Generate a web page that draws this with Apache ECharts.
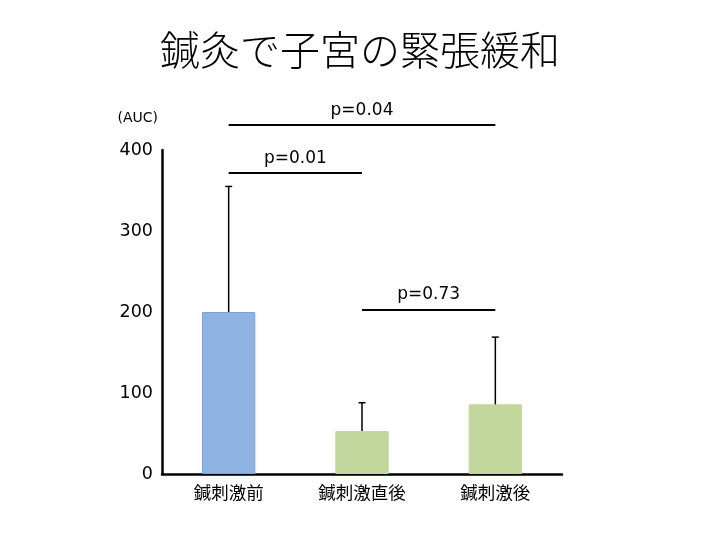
<!DOCTYPE html>
<html>
<head>
<meta charset="utf-8">
<script src="https://cdn.jsdelivr.net/npm/echarts@6/dist/echarts.min.js"></script>
<style>
html,body{margin:0;padding:0;background:#fff;}
#chart{width:720px;height:540px;}
</style>
</head>
<body>
<div id="chart"></div>
<script>
var titleText = '鍼灸で子宮の緊張緩和';
var categories = ['鍼刺激前', '鍼刺激直後', '鍼刺激後'];
var means = [200, 53, 86];
var upperErr = [355, 88, 169];
var barColors = ['#8EB4E3', '#C3D69B', '#C3D69B'];
var barBorders = ['#7CA3D4', '#C3D69B', '#C3D69B'];
var yTicks = [0, 100, 200, 300, 400];
var sigLabels = ['p=0.04', 'p=0.01', 'p=0.73'];
var sigFrom = [0, 0, 1];
var sigTo = [2, 1, 2];
var sigLevel = [431, 372, 203];

var chart = echarts.init(document.getElementById('chart'));

var barData = means.map(function (v, i) {
  return { value: v, itemStyle: { color: barColors[i], borderColor: barBorders[i], borderWidth: 1 } };
});
var errData = means.map(function (v, i) { return [i, v, upperErr[i]]; });
var sigData = sigLabels.map(function (t, i) {
  return [
    { coord: [categories[sigFrom[i]], sigLevel[i]], label: { formatter: t } },
    { coord: [categories[sigTo[i]], sigLevel[i]] }
  ];
});

var option = {
  backgroundColor: '#ffffff',
  animation: false,
  title: {
    text: titleText,
    left: 'center',
    top: 25,
    textStyle: { fontFamily: 'Noto Sans CJK JP', fontSize: 40, fontWeight: 300, color: '#000' }
  },
  grid: [
    { left: 162, width: 400, top: 150, bottom: 66 },
    { left: 162, width: 400, top: 109.5, bottom: 66 }
  ],
  xAxis: [
    {
      type: 'category', gridIndex: 0, data: categories, boundaryGap: true,
      axisLine: { lineStyle: { color: '#000', width: 2.5 } },
      axisTick: { show: false },
      axisLabel: { color: '#000', fontSize: 17.5, fontWeight: 'normal', fontFamily: 'Noto Sans CJK JP', margin: 10 }
    },
    {
      type: 'category', gridIndex: 1, data: categories, boundaryGap: true, show: false
    }
  ],
  yAxis: [
    {
      type: 'value', gridIndex: 0, min: yTicks[0], max: yTicks[yTicks.length - 1], interval: 100,
      name: '(AUC)', nameLocation: 'end', nameGap: 25,
      nameTextStyle: { fontFamily: 'DejaVu Sans', fontSize: 14, color: '#000', align: 'right', padding: [0, 4, 0, 0] },
      axisLine: { show: true, lineStyle: { color: '#000', width: 2.5 } },
      axisTick: { show: false },
      splitLine: { show: false },
      axisLabel: { color: '#000', fontSize: 17.5, fontFamily: 'DejaVu Sans', margin: 9 }
    },
    {
      type: 'value', gridIndex: 1, min: 0, max: 450, show: false, splitLine: { show: false }
    }
  ],
  series: [
    {
      type: 'bar', xAxisIndex: 0, yAxisIndex: 0, data: barData, barWidth: '40%', z: 2
    },
    {
      type: 'custom', xAxisIndex: 0, yAxisIndex: 0, data: errData, z: 3,
      encode: { x: 0, y: [1, 2] },
      renderItem: function (params, api) {
        var x = api.value(0);
        var lo = api.coord([x, api.value(1)]);
        var hi = api.coord([x, api.value(2)]);
        return {
          type: 'group',
          children: [
            { type: 'line', shape: { x1: lo[0], y1: lo[1], x2: hi[0], y2: hi[1] }, style: { stroke: '#000', lineWidth: 1.5 } },
            { type: 'line', shape: { x1: hi[0] - 3.5, y1: hi[1], x2: hi[0] + 3.5, y2: hi[1] }, style: { stroke: '#000', lineWidth: 1.5 } }
          ]
        };
      }
    },
    {
      type: 'line', xAxisIndex: 1, yAxisIndex: 1, data: [null, null, null], silent: true,
      showSymbol: false,
      markLine: {
        silent: true,
        symbol: ['none', 'none'],
        lineStyle: { color: '#000', width: 2, type: 'solid' },
        label: { show: true, position: 'middle', distance: 6, color: '#000', fontSize: 17, fontFamily: 'DejaVu Sans' },
        emphasis: { disabled: true },
        data: sigData
      }
    }
  ]
};
chart.setOption(option);
</script>
</body>
</html>
